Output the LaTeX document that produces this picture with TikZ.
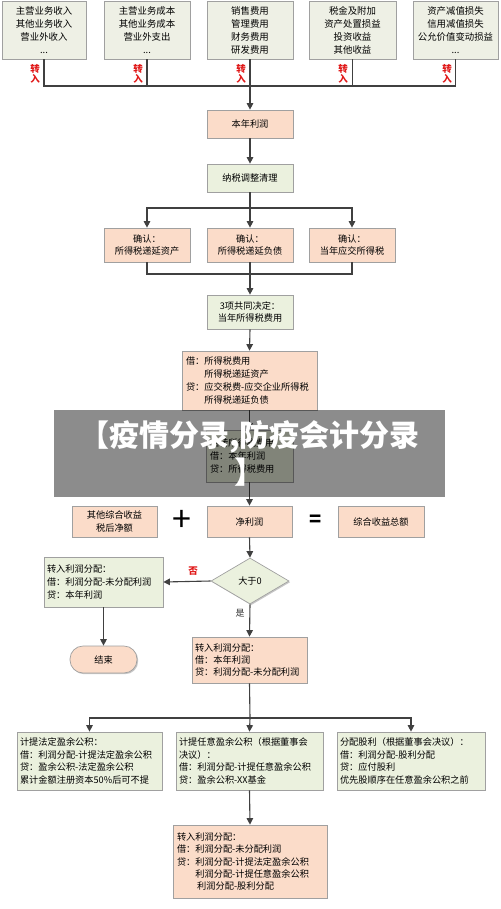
\documentclass[tikz,border=0pt]{standalone}
\usepackage{fontspec}
\setmainfont{Noto Sans CJK SC}
\usetikzlibrary{arrows.meta,shapes.geometric,shadows}
\definecolor{peachf}{HTML}{FBDCC9}
\definecolor{greenf}{HTML}{EBF1DE}
\definecolor{topf}{HTML}{EEF0E5}
\definecolor{bord}{HTML}{A0A0A0}
\definecolor{lnc}{HTML}{404040}
\definecolor{redc}{HTML}{E01818}
\tikzset{
  box/.style={draw=bord, line width=0.7pt, inner sep=0pt, align=center,
    font=\fontsize{9.2}{12.8}\selectfont,
    drop shadow={shadow xshift=1.2pt, shadow yshift=-1.2pt, fill=black, opacity=0.22}},
  pbox/.style={box, fill=peachf},
  gbox/.style={box, fill=greenf},
  tbox/.style={box, fill=topf, font=\fontsize{9.4}{13}\selectfont},
  lbox/.style={align=left},
  conn/.style={draw=lnc, line width=1.1pt},
  arr/.style={conn, -{Triangle[length=6.5pt,width=6.5pt]}},
  redlab/.style={text=redc, font=\bfseries\fontsize{9.5}{10}\selectfont, align=center, inner sep=0pt},
  plainlab/.style={text=black!80, font=\fontsize{9}{10}\selectfont, inner sep=0pt},
}
\begin{document}
\begin{tikzpicture}[x=1pt,y=-1pt]
\useasboundingbox (0,0) rectangle (500,909);
% top row
\node[tbox, minimum width=84pt, minimum height=58pt] (t1) at (44,30) {主营业务收入\\其他业务收入\\营业外收入\\...};
\node[tbox, minimum width=86pt, minimum height=58pt] (t2) at (147,30) {主营业务成本\\其他业务成本\\营业外支出\\...};
\node[tbox, minimum width=86pt, minimum height=58pt] (t3) at (250,30) {销售费用\\管理费用\\财务费用\\研发费用};
\node[tbox, minimum width=87pt, minimum height=58pt] (t4) at (352.5,30) {税金及附加\\资产处置损益\\投资收益\\其他收益};
\node[tbox, minimum width=85pt, minimum height=58pt] (t5) at (455.5,30) {资产减值损失\\信用减值损失\\公允价值变动损益\\...};
\node[redlab] (z1) at (35,74) {转\\入};
\node[redlab] (z2) at (138,74) {转\\入};
\node[redlab] (z3) at (241,74) {转\\入};
\node[redlab] (z4) at (343,74) {转\\入};
\node[redlab] (z5) at (447,74) {转\\入};
\coordinate (j1) at (250,86);
\node[pbox, minimum width=86pt, minimum height=28pt] (bn) at (250,124) {本年利润};
\node[gbox, minimum width=86pt, minimum height=28pt] (ns) at (250,178) {纳税调整清理};
\draw[conn] (t1.south) |- (j1);
\draw[conn] (t2.south) |- (j1);
\draw[conn] (t4.south) |- (j1);
\draw[conn] (t5.south) |- (j1);
\draw[conn] (t3.south) -- (j1);
\draw[arr] (j1) -- (bn.north);
\draw[arr] (bn.south) -- (ns.north);
% confirmation boxes
\coordinate (j2) at (250,208);
\node[pbox, minimum width=86pt, minimum height=34pt] (qa) at (147,245) {确认：\\所得税递延资产};
\node[pbox, minimum width=86pt, minimum height=34pt] (qb) at (250,245) {确认：\\所得税递延负债};
\node[pbox, minimum width=86pt, minimum height=34pt] (qc) at (352,245) {确认：\\当年应交所得税};
\draw[conn] (ns.south) -- (j2);
\draw[arr] (j2) -| (qa.north);
\draw[arr] (j2) -| (qc.north);
\draw[arr] (j2) -- (qb.north);
\coordinate (j3) at (250,274);
\node[gbox, minimum width=86pt, minimum height=34pt] (sx) at (250,312) {3项共同决定：\\当年所得税费用};
\draw[conn] (qa.south) |- (j3);
\draw[conn] (qc.south) |- (j3);
\draw[conn] (qb.south) -- (j3);
\draw[arr] (j3) -- (sx.north);
\node[pbox, lbox, minimum width=135pt, minimum height=59pt, text width=127pt] (jd) at (249.5,380.5) {借：所得税费用\\\hspace*{2em}所得税递延资产\\贷：应交税费-应交企业所得税\\\hspace*{2em}所得税递延负债};
\draw[arr] (sx.south) -- (jd.north);
\node[gbox, lbox, minimum width=87pt, minimum height=52pt, text width=79pt] (hb) at (249.5,456) {结转所得税费用\\借：本年利润\\贷：所得税费用};
\draw[arr] (jd.south) -- (hb.north);
% net profit row
\node[pbox, minimum width=85pt, minimum height=31pt] (qt) at (114.5,521.5) {其他综合收益\\税后净额};
\node[pbox, minimum width=85pt, minimum height=31pt] (jl) at (249.5,521.5) {净利润};
\node[pbox, minimum width=86pt, minimum height=31pt] (zh) at (381,521.5) {综合收益总额};
\node[inner sep=0pt, font=\fontsize{34}{34}\selectfont] (plus) at (182,521) {+};
\node[inner sep=0pt, font=\bfseries\fontsize{20}{20}\selectfont] (eq) at (315.5,521) {=};
\draw[arr] (hb.south) -- (jl.north);
% decision
\node[diamond, draw=bord, line width=0.7pt, fill=greenf, minimum width=78pt, minimum height=46pt, inner sep=0pt, font=\fontsize{9.2}{11}\selectfont,
  drop shadow={shadow xshift=1.2pt, shadow yshift=-1.2pt, fill=black, opacity=0.22}] (d) at (250,581) {大于0};
\draw[arr] (jl.south) -- (d.north);
\node[gbox, lbox, minimum width=119pt, minimum height=50pt, text width=113pt] (lb) at (103.5,582) {转入利润分配：\\借：利润分配-未分配利润\\贷：本年利润};
\draw[arr] (d.west) -- (lb.east);
\node[redlab] (fou) at (193,571) {否};
\node[pbox, minimum width=67pt, minimum height=27pt, rounded corners=13pt] (end) at (103.5,659.5) {结束};
\draw[arr] (lb.south) -- (end.north);
\node[pbox, lbox, minimum width=115pt, minimum height=46pt, text width=109pt, font=\fontsize{9.2}{12}\selectfont] (yb) at (249.5,660) {转入利润分配：\\借：本年利润\\贷：利润分配-未分配利润};
\node[plainlab] (shi) at (240,613) {是};
\draw[arr] (d.south) -- (yb.north);
% distribution
\coordinate (j4) at (250,718);
\node[gbox, lbox, minimum width=145pt, minimum height=58pt, text width=139pt] (gl) at (89.5,761) {计提法定盈余公积：\\借：利润分配-计提法定盈余公积\\贷：盈余公积-法定盈余公积\\累计金额注册资本50\%后可不提};
\node[gbox, lbox, minimum width=147pt, minimum height=58pt, text width=141pt] (gm) at (249.5,761) {计提任意盈余公积（根据董事会\\决议）：\\借：利润分配-计提任意盈余公积\\贷：盈余公积-XX基金};
\node[gbox, lbox, minimum width=148pt, minimum height=58pt, text width=142pt] (gr) at (411,761) {分配股利（根据董事会决议）：\\借：利润分配-股利分配\\贷：应付股利\\优先股顺序在任意盈余公积之前};
\draw[conn] (yb.south) -- (j4);
\draw[arr] (j4) -| (gl.north);
\draw[arr] (j4) -| (gr.north);
\draw[arr] (j4) -- (gm.north);
\node[pbox, lbox, minimum width=154pt, minimum height=73pt, text width=146pt, font=\fontsize{9.2}{12.3}\selectfont] (fb) at (250,861.5) {转入利润分配：\\借：利润分配-未分配利润\\贷：利润分配-计提法定盈余公积\\\hspace*{2em}利润分配-计提任意盈余公积\\\hspace*{2.2em}利润分配-股利分配};
\draw[arr] (gm.south) -- (fb.north);
% overlay banner
\node[fill=black, fill opacity=0.45, text opacity=1, text=white, minimum width=391pt, minimum height=87pt, inner sep=0pt,
  align=center, font=\bfseries\fontsize{30}{37}\selectfont] (banner) at (249.5,453.5) {【疫情分录,防疫会计分录\\】};
\end{tikzpicture}
\end{document}
